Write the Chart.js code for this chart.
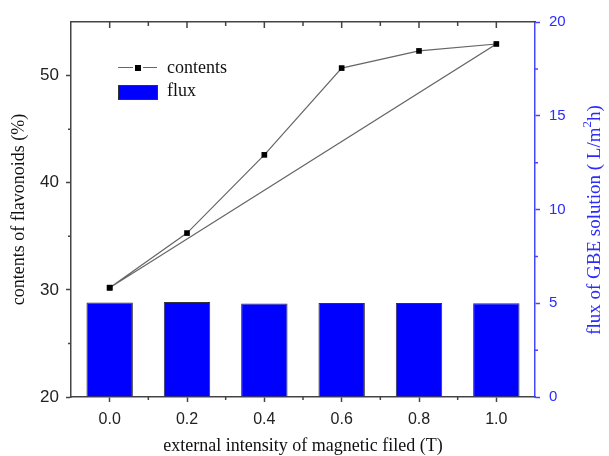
<!DOCTYPE html>
<html>
<head>
<meta charset="utf-8">
<script src="https://cdn.jsdelivr.net/npm/chart.js@4"></script>
<style>
  html, body { margin: 0; padding: 0; background: #fff; }
  #wrap { width: 609px; height: 456px; }
</style>
</head>
<body>
<div id="wrap"><canvas id="grafico" width="609" height="456"></canvas></div>
<script>
// datos
const fields = ['0.0', '0.2', '0.4', '0.6', '0.8', '1.0'];
const contents = [30.2, 35.3, 42.6, 50.7, 52.3, 52.95];
const flux = [5.04, 5.07, 4.99, 5.01, 5.01, 5.0];

// la curva vuelve al primer punto (cierre del trazo)
const contentsPoints = fields.map((f, i) => ({ x: f, y: contents[i] }));
contentsPoints.push({ x: fields[0], y: contents[0] });

const axisColor = '#444';
const blueAxis = '#4646ff';

// ticks menores, leyenda y titulo derecho
const extras = {
    id: 'extras',
    afterDraw(chart) {
        const { ctx, chartArea: a, scales } = chart;
        const x = scales.x, y = scales.y, y1 = scales.y1;
        ctx.save();
        ctx.lineWidth = 1.5;
        ctx.strokeStyle = axisColor;
        ctx.beginPath();
        for (let i = 0; i < fields.length; i++) {
            const px = x.getPixelForValue(i);
            ctx.moveTo(px, a.top); ctx.lineTo(px, a.top + 6);
            if (i < fields.length - 1) {
                const mx = (px + x.getPixelForValue(i + 1)) / 2;
                ctx.moveTo(mx, a.bottom); ctx.lineTo(mx, a.bottom + 3);
                ctx.moveTo(mx, a.top); ctx.lineTo(mx, a.top + 4);
            }
        }
        for (let v = 25; v < 55; v += 10) {
            const py = y.getPixelForValue(v);
            ctx.moveTo(a.left - 3, py); ctx.lineTo(a.left, py);
        }
        ctx.stroke();
        ctx.strokeStyle = blueAxis;
        ctx.beginPath();
        for (let v = 2.5; v < 20; v += 5) {
            const py = y1.getPixelForValue(v);
            ctx.moveTo(a.right, py); ctx.lineTo(a.right + 3, py);
        }
        ctx.stroke();

        // leyenda
        ctx.strokeStyle = '#666';
        ctx.lineWidth = 1;
        ctx.beginPath();
        ctx.moveTo(118, 67.5); ctx.lineTo(133, 67.5);
        ctx.moveTo(143, 67.5); ctx.lineTo(157, 67.5);
        ctx.stroke();
        ctx.fillStyle = '#000';
        ctx.fillRect(135, 65, 6, 6);
        ctx.fillStyle = '#0000ff';
        ctx.fillRect(118, 85, 39, 14);
        ctx.strokeStyle = '#333';
        ctx.strokeRect(118.5, 85.5, 39, 14);
        ctx.fillStyle = '#111';
        ctx.font = '18px "Liberation Serif"';
        ctx.textBaseline = 'middle';
        ctx.fillText('contents', 167, 68);
        ctx.fillText('flux', 167, 91);

        // titulo eje derecho (de abajo hacia arriba)
        ctx.translate(595, 220);
        ctx.rotate(-Math.PI / 2);
        ctx.fillStyle = '#2b2bff';
        const t1 = 'flux of GBE solution ( L/m', t2 = '2', t3 = 'h)';
        ctx.font = '19px "Liberation Serif"';
        const w1 = ctx.measureText(t1).width, w3 = ctx.measureText(t3).width;
        ctx.font = '13px "Liberation Serif"';
        const w2 = ctx.measureText(t2).width;
        let sx = -(w1 + w2 + w3) / 2;
        ctx.font = '19px "Liberation Serif"';
        ctx.fillText(t1, sx, 0);
        sx += w1;
        ctx.font = '13px "Liberation Serif"';
        ctx.fillText(t2, sx, -7);
        sx += w2;
        ctx.font = '19px "Liberation Serif"';
        ctx.fillText(t3, sx, 0);
        ctx.restore();
    }
};

const ctx1 = document.getElementById('grafico').getContext('2d');
new Chart(ctx1, {
    data: {
        labels: fields,
        datasets: [{
            type: 'line',
            label: 'contents',
            data: contentsPoints,
            yAxisID: 'y',
            borderColor: '#666',
            borderWidth: 1.2,
            pointStyle: 'rect',
            pointRadius: 4,
            pointBackgroundColor: '#000',
            pointBorderColor: '#000',
            pointBorderWidth: 0,
            tension: 0,
            fill: false
        }, {
            type: 'bar',
            label: 'flux',
            data: flux,
            yAxisID: 'y1',
            backgroundColor: '#0000ff',
            borderColor: '#333',
            borderWidth: 1,
            barPercentage: 0.6,
            categoryPercentage: 1
        }]
    },
    options: {
        responsive: false,
        animation: false,
        layout: { padding: { top: 22, left: 8, right: 0, bottom: 0 } },
        plugins: { legend: { display: false }, tooltip: { enabled: false } },
        scales: {
            x: {
                type: 'category',
                offset: true,
                afterFit: s => { s.height = 59; },
                grid: { offset: false, drawOnChartArea: false, tickLength: 5, color: axisColor, tickWidth: 1.5 },
                border: { color: axisColor, width: 1.5 },
                ticks: { color: '#222', padding: 8, font: { family: '"Liberation Sans"', size: 16 } },
                title: {
                    display: true, text: 'external intensity of magnetic filed (T)',
                    color: '#111', font: { family: '"Liberation Serif"', size: 18 }, padding: { top: 0, bottom: -1.5 }
                }
            },
            y: {
                position: 'left',
                min: 20, max: 55,
                afterFit: s => { s.width = 63; },
                afterBuildTicks: s => { s.ticks = [20, 30, 40, 50].map(v => ({ value: v })); },
                grid: { drawOnChartArea: false, tickLength: 5, color: axisColor, tickWidth: 1.5 },
                border: { color: axisColor, width: 1.5 },
                ticks: { color: '#222', padding: 7, font: { family: '"Liberation Sans"', size: 17 } },
                title: {
                    display: true, text: 'contents of flavonoids (%)',
                    color: '#111', font: { family: '"Liberation Serif"', size: 18 }, padding: 0
                }
            },
            y1: {
                position: 'right',
                min: 0, max: 20,
                afterFit: s => { s.width = 74; },
                grid: { drawOnChartArea: false, tickLength: 5, color: blueAxis, tickWidth: 1.5 },
                border: { color: blueAxis, width: 1.5 },
                ticks: { stepSize: 5, color: '#2b2bff', padding: 9, font: { family: '"Liberation Sans"', size: 15 } }
            },
            top: {
                // borde superior del marco
                position: 'top',
                type: 'linear',
                display: true,
                afterFit: s => { s.height = 0; },
                grid: { display: false },
                border: { color: axisColor, width: 1.5 },
                ticks: { display: false }
            }
        }
    },
    plugins: [extras]
});
</script>
</body>
</html>
